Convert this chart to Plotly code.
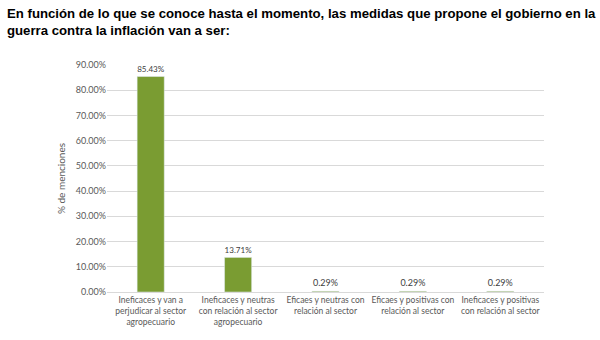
import plotly.graph_objects as go

categories = [
    "Ineficaces y van a<br>perjudicar al sector<br>agropecuario",
    "Ineficaces y neutras<br>con relación al sector<br>agropecuario",
    "Eficaes y neutras con<br>relación al sector",
    "Eficaes y positivas con<br>relación al sector",
    "Ineficaces y positivas<br>con relación al sector",
]
values = [0.8543, 0.1371, 0.0029, 0.0029, 0.0029]
labels = ["85.43%", "13.71%", "0.29%", "0.29%", "0.29%"]
tick_vals = [0, 0.1, 0.2, 0.3, 0.4, 0.5, 0.6, 0.7, 0.8, 0.9]

title_line1 = "En función de lo que se conoce hasta el momento, las medidas que propone el gobierno en la"
title_line2 = "guerra contra la inflación van a ser:"

L, R, T, B = 107, 56, 65, 48
PW, PH = 600 - L - R, 340 - T - B

fig = go.Figure()
fig.add_trace(go.Bar(
    x=categories, y=values, text=labels, textposition="outside",
    textfont=dict(family="Lato", size=9, color="#404040"),
    marker=dict(color="#7a9c32"), width=0.31, cliponaxis=False,
))

fig.update_layout(
    width=600, height=340, margin=dict(l=L, r=R, t=T, b=B, autoexpand=False),
    paper_bgcolor="white", plot_bgcolor="white", showlegend=False,
    font=dict(family="Lato", color="#595959"),
)
fig.update_yaxes(
    range=[0, 0.9], tickvals=tick_vals, tickformat=".2%",
    tickfont=dict(family="Lato", size=9, color="#595959"),
    gridcolor="#d9d9d9", gridwidth=1, zeroline=False, showline=False,
    ticks="", ticklen=0, automargin=False,
    title=dict(text="% de menciones", font=dict(family="Lato", size=10, color="#595959"), standoff=8),
)
fig.update_xaxes(
    tickfont=dict(family="Lato", size=8.5, color="#595959"), tickangle=0,
    showline=True, linecolor="#d9d9d9", ticks="", showgrid=False, automargin=False,
)

for i, line in enumerate([title_line1, title_line2]):
    fig.add_annotation(text="<b>" + line + "</b>", xref="paper", yref="paper",
                       x=(5 - L) / PW, y=1 + (T - 4 - 17 * i) / PH,
                       xanchor="left", yanchor="top", showarrow=False,
                       font=dict(family="Liberation Sans", size=13.2, color="black"))
fig.write_html("out.html")
